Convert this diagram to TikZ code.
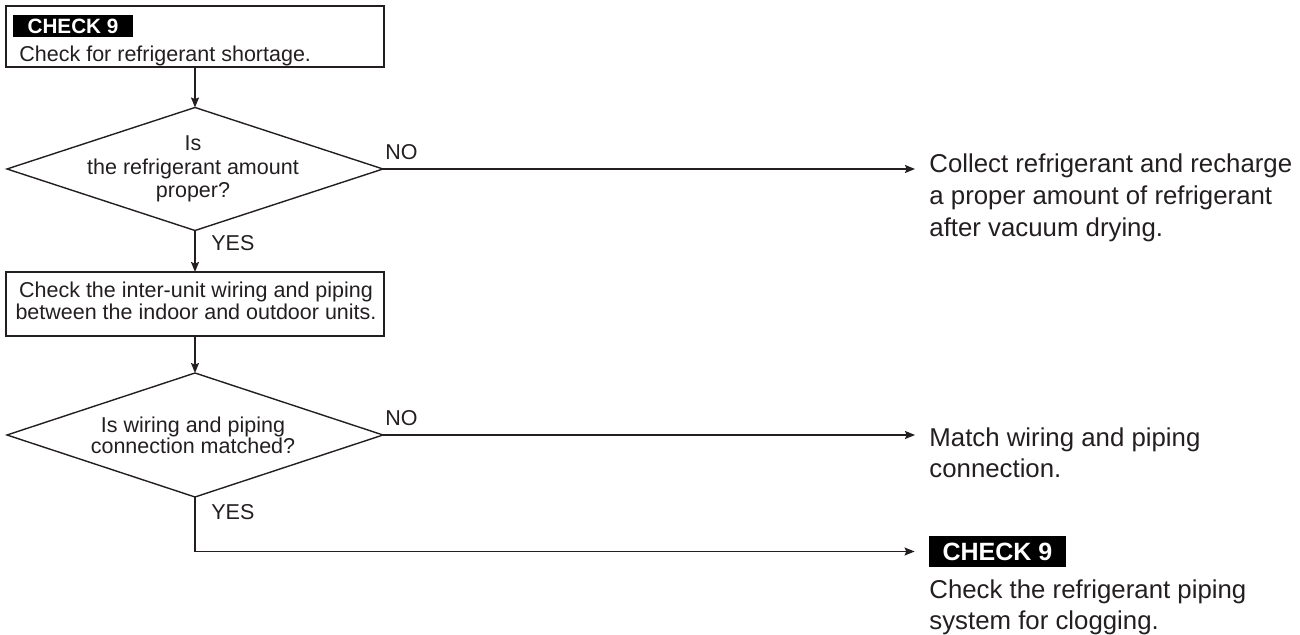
\documentclass[tikz,border=0pt]{standalone}
\usepackage{fontspec}
\setmainfont{Liberation Sans}
\usetikzlibrary{shapes.geometric,arrows.meta}
\definecolor{ink}{HTML}{231F20}
\begin{document}
\begin{tikzpicture}[x=0.5pt,y=-0.5pt,
  box/.style={draw=ink, line width=0.7pt, rectangle, inner sep=0pt, outer sep=0pt, minimum width=189pt},
  dec/.style={draw=ink, line width=0.7pt, diamond, inner sep=0pt, outer sep=0pt, minimum width=188pt, minimum height=61.5pt},
  lt/.style={text=ink, font=\fontsize{10.75}{11.8}\selectfont, inner sep=0pt, align=center},
  rt/.style={text=ink, font=\fontsize{12.9}{16}\selectfont, inner sep=0pt, align=left, anchor=base west},
  tag/.style={fill=black, text=white, inner sep=0pt},
  flow/.style={draw=ink, line width=0.7pt, -{Stealth[length=5pt,width=4pt,inset=0.8pt]}}
]
\useasboundingbox (0,0) rectangle (1300,635);
% top box
\node[box, minimum height=30.5pt] (b1) at (195,36.5) {};
\node[tag, minimum width=60pt, minimum height=11pt, font=\bfseries\fontsize{10.35}{12}\selectfont] (t1) at (73,26) {CHECK 9};
\node[lt, anchor=base west] (b1t) at (19,62) {Check for refrigerant shortage.};
% decision 1
\node[dec] (d1) at (195,169) {};
\node[lt, anchor=base] (d1t) at (193,198) {Is\\the refrigerant amount\\proper?};
\node[lt, anchor=base west] (no1) at (385,160) {NO};
% box 2
\node[box, minimum height=32pt] (b2) at (195,304) {};
\node[lt, anchor=base, font=\fontsize{10.75}{9.5}\selectfont] (b2t) at (196,320) {Check the inter-unit wiring and piping\\between the indoor and outdoor units.};
\node[lt, anchor=west] (yes1) at (211,243) {YES};
% decision 2
\node[dec, minimum height=62pt] (d2) at (195,435) {};
\node[lt, anchor=base, font=\fontsize{10.75}{10.5}\selectfont] (d2t) at (193,454) {Is wiring and piping\\connection matched?};
\node[lt, anchor=base west] (no2) at (385,426) {NO};
\node[lt, anchor=west] (yes2) at (211,512) {YES};
% right side
\node[rt] (r1) at (929,237) {Collect refrigerant and recharge\\a proper amount of refrigerant\\after vacuum drying.};
\node[rt, font=\fontsize{12.9}{15.5}\selectfont] (r2) at (929,478) {Match wiring and piping\\connection.};
\node[tag, minimum width=68.5pt, minimum height=15.5pt, font=\bfseries\fontsize{12.5}{14}\selectfont] (t2) at (997.5,551.5) {CHECK 9};
\node[rt, font=\fontsize{12.9}{15.5}\selectfont] (r3) at (929,629) {Check the refrigerant piping\\system for clogging.};
% connectors
\coordinate (e1) at (915,169);
\coordinate (e2) at (915,435);
\draw[flow] (b1.south) -- (d1.north);
\draw[flow] (d1.south) -- (b2.north);
\draw[flow] (b2.south) -- (d2.north);
\draw[flow] (d1.east) -- (e1);
\draw[flow] (d2.east) -- (e2);
\draw[flow, shorten >=7pt] (d2.south) |- (t2.west);
\end{tikzpicture}
\end{document}
